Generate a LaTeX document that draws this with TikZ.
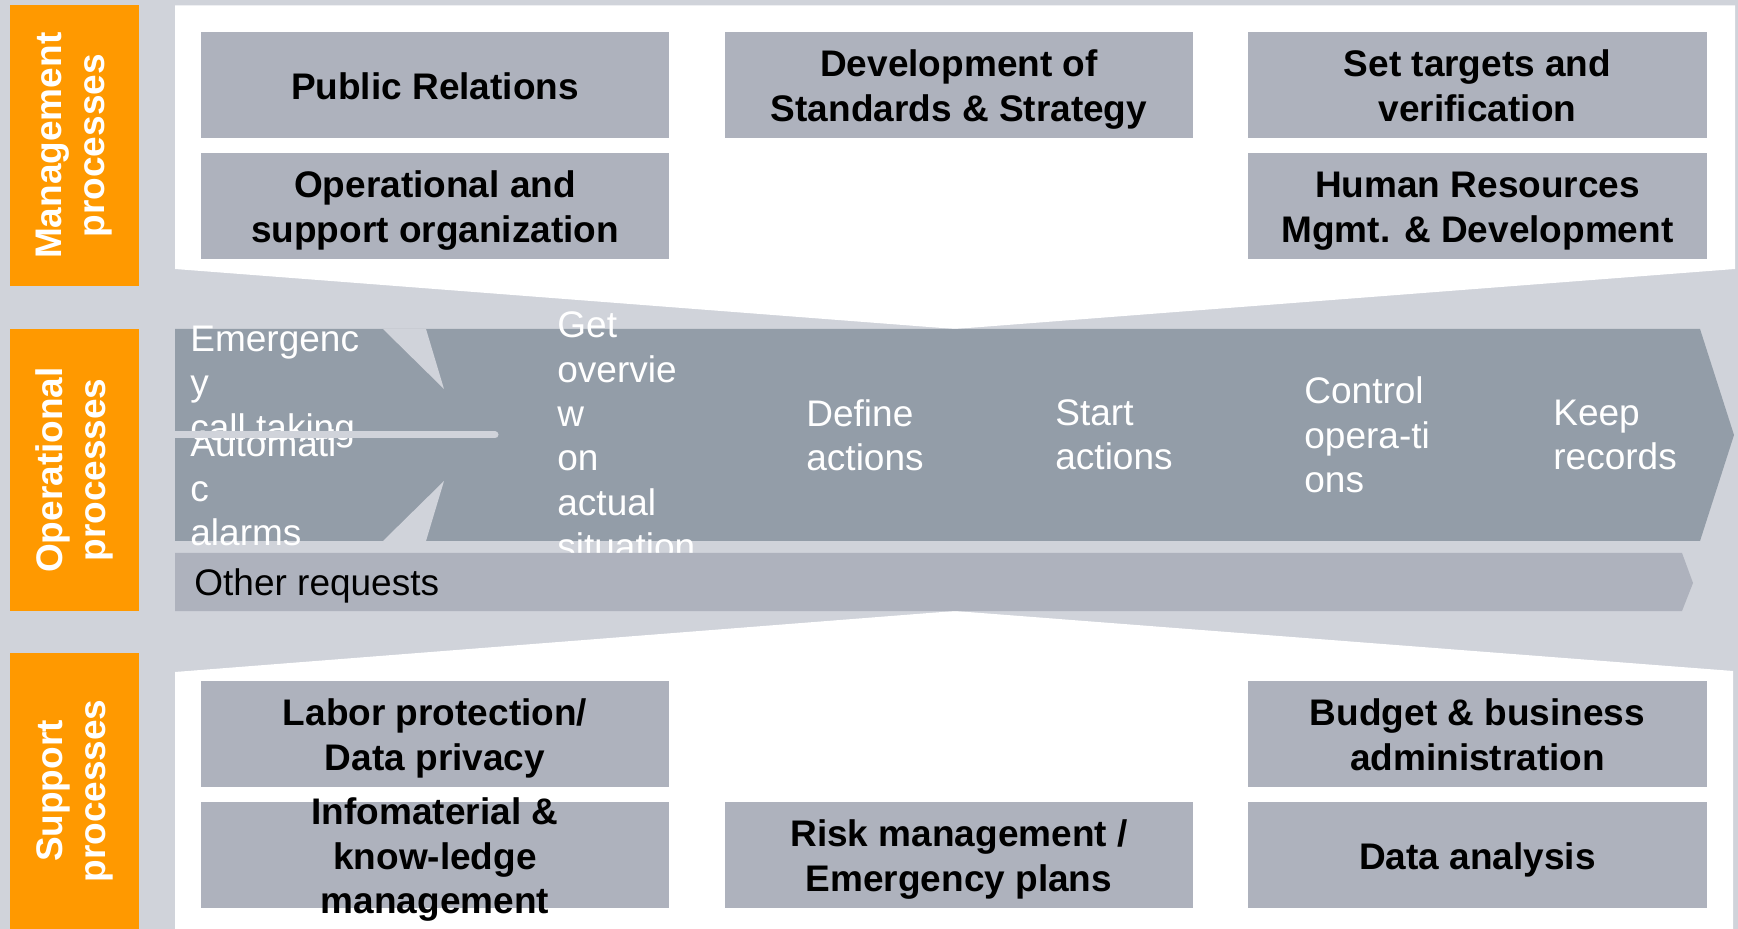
\documentclass[tikz,border=0pt]{standalone}
\usepackage{fontspec}
\setmainfont{Liberation Sans}
\usepackage{tikz}
\usetikzlibrary{positioning}
\definecolor{bgc}{RGB}{208,211,218}
\definecolor{orc}{RGB}{255,153,0}
\definecolor{boxc}{RGB}{174,178,189}
\definecolor{bandc}{RGB}{147,157,168}
\newcommand{\procfont}{\fontsize{18.5}{22.2}\selectfont}

\begin{document}
\begin{tikzpicture}[x=0.5pt,y=-0.5pt,every node/.style={inner sep=0pt,font=\procfont},
  boxtext/.style={align=center,font=\fontsize{18.5}{22.6}\selectfont\bfseries,text height=18.1pt,text depth=3.9pt},
  twolines/.style={text height=40.7pt},
  procbox/.style={boxtext,fill=boxc,minimum width=234pt,minimum height=53pt},
  lanebox/.style={fill=orc,minimum height=64.5pt,rotate=90,text=white,align=center,font=\fontsize{18.5}{21.5}\selectfont\bfseries},
  steptext/.style={anchor=west,align=left,text=white}]
  \fill[bgc] (0,0) rectangle (1738,929);
  % white panels
  \fill[white] (175,5.5) -- (1735,5.5) -- (1735,269) -- (955,329) -- (175,269) -- cycle;
  \fill[white] (175,672) -- (955,611) -- (1733,671) -- (1733,929) -- (175,929) -- cycle;
  % operational band
  \fill[bandc] (175,329) -- (1700,329) -- (1734,435) -- (1700,541) -- (175,541) -- cycle;
  \fill[bgc] (383,329) -- (426,329) -- (444,389) -- cycle;
  \fill[bgc] (383,541) -- (426,541) -- (444,481) -- cycle;
  \node[steptext] (emerg) at (190,387) {Emergenc\\y\\call taking};
  \node[steptext] (autoal) at (190,488) {Automati\\c\\alarms};
  \node[steptext] (overview) at (557,436) {Get\\overvie\\w\\on\\actual\\situation};
  \node[steptext] (defact) at (806,435) {Define\\actions};
  \node[steptext] (startact) at (1055,435) {Start\\actions};
  \node[steptext] (ctrlop) at (1304,435) {Control\\opera-ti\\ons};
  \node[steptext] (keeprec) at (1553,435) {Keep\\records};
  \draw[bgc,line width=3.5pt,line cap=round] (175,435) -- (495,435);
  \fill[boxc] (175,553) -- (1682,553) -- (1693,583) -- (1682,611) -- (175,611) -- cycle;
  \node[anchor=west] (otherreq) at (194,586) {Other requests};
  % management boxes
  \node[procbox] (pubrel) at (435,85) {Public Relations};
  \node[procbox,twolines] (opsorg) at (435,206) {Operational and\\support organization};
  \node[procbox,twolines] (stdstrat) at (959,85) {Development of\\Standards \& Strategy};
  \node[procbox,twolines,minimum width=229.5pt] (targets) at (1477.5,85) {Set targets and\\verification};
  \node[procbox,twolines,minimum width=229.5pt] (humres) at (1477.5,206) {Human Resources\\Mgmt. \& Development};
  % support boxes
  \node[procbox,twolines] (labor) at (435,734) {Labor protection/\\Data privacy};
  \node[procbox] (infomat) at (435,855) {};
  \node[boxtext,font=\fontsize{18.5}{22.2}\selectfont\bfseries,text height=62.5pt] (infomat-t) at (infomat) {Infomaterial \&\\know-ledge\\management};
  \node[procbox,twolines] (risk) at (959,855) {Risk management /\\Emergency plans};
  \node[procbox,twolines,minimum width=229.5pt] (budget) at (1477.5,734) {Budget \& business\\administration};
  \node[procbox,minimum width=229.5pt] (analysis) at (1477.5,855) {Data analysis};
  % lanes
  \node[lanebox,minimum width=140.25pt] (mgmt) at (74.5,145.75) {Management\\processes};
  \node[lanebox,minimum width=141pt] (oper) at (74.5,470) {Operational\\processes};
  \node[lanebox,minimum width=138pt] (supp) at (74.5,791) {Support\\processes};
\end{tikzpicture}
\end{document}
